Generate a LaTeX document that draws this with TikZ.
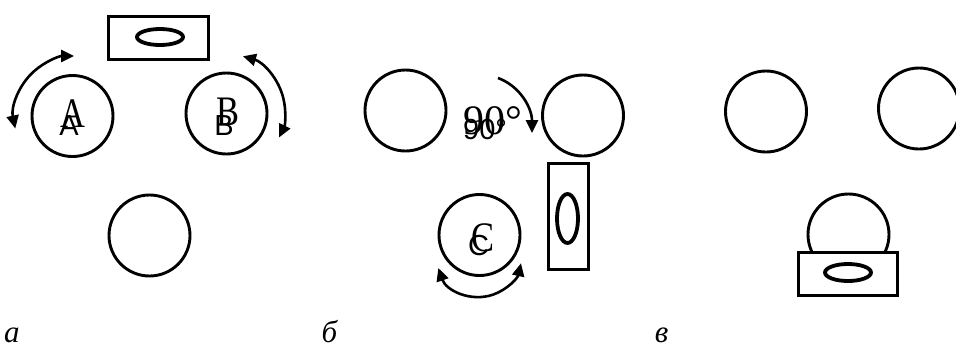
\documentclass[tikz,border=0pt]{standalone}
\usepackage{fontspec}
\setmainfont{Liberation Serif}
\newfontfamily\sansf{Liberation Sans}
\usetikzlibrary{shapes.geometric,arrows.meta,calc}
\tikzset{
  ring/.style={circle,draw,line width=2.9pt,minimum size=81pt,inner sep=0pt},
  plate/.style={rectangle,draw,line width=2.9pt,inner sep=0pt,fill=white},
  hole/.style={ellipse,draw,line width=3.8pt,inner sep=0pt},
  turn/.style={line width=2.6pt,{Triangle[length=13pt,width=12pt]}-{Triangle[length=13pt,width=12pt]}},
  turnone/.style={line width=2.6pt,-{Triangle[length=13pt,width=12pt]}},
  serifl/.style={inner sep=0pt,anchor=base,font=\fontsize{42}{42}\selectfont},
  sansl/.style={inner sep=0pt,anchor=base,font=\sansf\fontsize{29}{29}\selectfont},
  panel/.style={inner sep=0pt,anchor=base,font=\itshape\fontsize{31}{31}\selectfont}
}
\begin{document}
\begin{tikzpicture}[x=1pt,y=-1pt]
\useasboundingbox (0,0) rectangle (956,349);
% ---- panel a
\node[plate,minimum width=99.5pt,minimum height=43pt] (ra) at (158.3,38) {};
\node[hole,minimum width=46pt,minimum height=16pt] (ea) at (160,37) {};
\node[ring] (cA) at (72.5,116) {};
\node[ring] (cB) at (226.5,113.5) {};
\node[ring] (cD) at (149.5,235.5) {};
\node[serifl] (tA1) at (72.5,127) {\scalebox{0.82}[1]{A}};
\node[sansl] (tA2) at (69,135) {A};
\node[serifl] (tB1) at (227.5,125) {\scalebox{0.82}[1]{B}};
\node[sansl] (tB2) at (224,135) {B};
\coordinate (oA) at (74,116);
\coordinate (oB) at (227,112);
\coordinate (a1) at ($(oA)+(192:60pt)$);
\coordinate (b1) at ($(oB)+(74:58pt)$);
\draw[turn] (a1) arc[start angle=192,end angle=90,radius=60pt];
\draw[turn] (b1) arc[start angle=74,end angle=-26,radius=58pt];
% ---- panel b
\node[ring] (cL) at (405.5,110.5) {};
\node[ring] (cR) at (583,115.5) {};
\node[ring] (cC) at (479.5,235) {};
\node[plate,minimum width=40pt,minimum height=106pt] (rb) at (568.5,216.5) {};
\node[hole,minimum width=21pt,minimum height=49pt] (eb) at (567.5,218.5) {};
\node[serifl,anchor=base west] (t901) at (463,134) {90°};
\node[sansl,anchor=base west] (t902) at (463,139) {90°};
\node[serifl] (tC1) at (483,251) {\scalebox{0.82}[1]{C}};
\node[sansl] (tC2) at (478.5,255) {C};
\coordinate (s1) at (498,78);
\coordinate (s2) at (532,133);
\draw[turnone] (s1) .. controls (520,86) and (532,108) .. (s2);
\coordinate (oC) at (479,254);
\coordinate (c1) at ($(oC)+(199:43pt)$);
\draw[turn] (c1) arc[start angle=199,end angle=347.6,radius=43pt];
% ---- panel v
\node[ring] (cL2) at (766,111.5) {};
\node[ring] (cR2) at (919,108.5) {};
\node[ring] (cB2) at (848.5,234.5) {};
\node[plate,minimum width=99pt,minimum height=43pt] (rc) at (848,274) {};
\node[hole,minimum width=46pt,minimum height=17pt] (ec) at (848,272.5) {};
% ---- panel labels
\node[panel] (la) at (12,342) {а};
\node[panel] (lb) at (329.5,342) {б};
\node[panel] (lc) at (661.5,342) {в};
\end{tikzpicture}
\end{document}
